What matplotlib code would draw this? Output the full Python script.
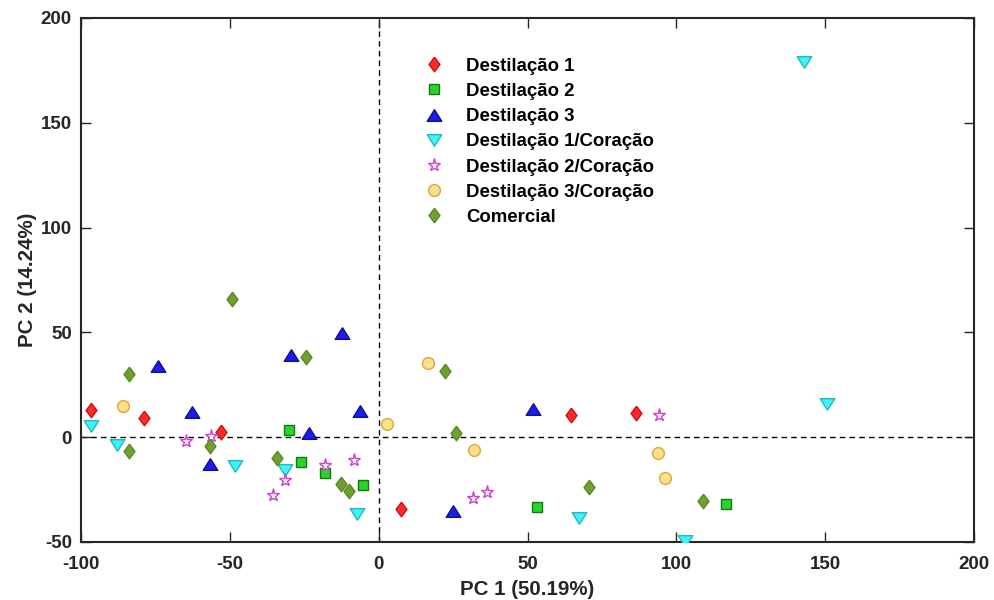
import numpy as np
import matplotlib
matplotlib.use("Agg")
import matplotlib.pyplot as plt

plt.rcParams["font.family"] = ["Liberation Sans", "DejaVu Sans"]
plt.rcParams["font.weight"] = "bold"
plt.rcParams["axes.unicode_minus"] = False

# scores (PC1, PC2)
d1_x = [-96.5, -78.7, -53.1, 7.5, 64.5, 86.3]
d1_y = [13.1, 9.1, 2.4, -34.5, 10.3, 11.4]

d2_x = [-30.0, -26.1, -18.1, -5.3, 53.1, 116.5]
d2_y = [3.5, -11.9, -17.3, -22.9, -33.4, -31.9]

d3_x = [-74.2, -62.7, -56.8, -29.5, -12.5, -6.3, -23.5, 51.9, 24.8]
d3_y = [34.0, 12.0, -13.0, 39.0, 49.7, 12.6, 1.9, 13.6, -35.5]

d1c_x = [-96.5, -87.9, -48.3, -31.4, -7.2, 67.4, 103.0, 142.7, 150.6]
d1c_y = [5.1, -4.0, -13.6, -15.7, -36.5, -38.5, -49.6, 179.0, 15.8]

d2c_x = [-64.9, -56.5, -31.5, -35.4, -18.2, -8.4, 31.8, 36.4, 94.2]
d2c_y = [-2.1, 0.3, -20.5, -27.7, -13.2, -10.9, -28.9, -26.2, 10.4]

d3c_x = [-86.0, 2.8, 16.5, 32.1, 93.7, 96.1]
d3c_y = [14.6, 6.3, 35.5, -6.2, -7.5, -19.5]

com_x = [-83.8, -84.0, -56.8, -49.4, -24.3, -34.1, -12.6, -10.0, 22.1, 25.9, 70.6, 108.8]
com_y = [30.3, -6.9, -4.5, 66.0, 38.3, -9.8, -22.3, -25.7, 31.5, 1.8, -24.0, -30.6]

diamond = [(0, 1), (0.75, 0), (0, -1), (-0.75, 0), (0, 1)]
tri_up = [(0, 0.8), (1, -0.8), (-1, -0.8), (0, 0.8)]
tri_down = [(0, -0.8), (1, 0.8), (-1, 0.8), (0, -0.8)]

groups = [
    ("Destilação 1", d1_x, d1_y, diamond, 10.5, "#ff2a2a", "#d01010"),
    ("Destilação 2", d2_x, d2_y, "s", 6.5, "#2ad42a", "#107a10"),
    ("Destilação 3", d3_x, d3_y, tri_up, 10.5, "#1c1cf0", "#10108a"),
    ("Destilação 1/Coração", d1c_x, d1c_y, tri_down, 10.5, "#3ff4f4", "#22b8c4"),
    ("Destilação 2/Coração", d2c_x, d2c_y, "*", 9.5, "white", "#d040d0"),
    ("Destilação 3/Coração", d3c_x, d3c_y, "o", 8.5, "#fbe08c", "#d6a93a"),
    ("Comercial", com_x, com_y, diamond, 10.5, "#70a030", "#5a8a22"),
]

fig = plt.figure(figsize=(9.94, 6.0), dpi=100)
ax = fig.add_axes([0.0815, 0.097, 0.8985, 0.873])

ax.axhline(0, color="black", ls="--", lw=1.0, dashes=(4, 3), zorder=1)
ax.axvline(0, color="black", ls="--", lw=1.0, dashes=(4, 3), zorder=1)

for name, xs, ys, mk, ms, fc, ec in groups:
    ax.plot(xs, ys, ls="none", marker=mk, ms=ms, mfc=fc, mec=ec, mew=1.0,
            label=name, zorder=3)

ax.set_xlim(-100, 200)
ax.set_ylim(-50, 200)
ax.set_xticks(np.arange(-100, 201, 50))
ax.set_yticks(np.arange(-50, 201, 50))
ax.tick_params(direction="in", length=7, width=1.0, top=True, right=True,
               labelsize=13.5, colors="#262626")
ax.tick_params(axis="x", pad=10.5)
ax.tick_params(axis="y", pad=6.5)
for lab in ax.get_xticklabels() + ax.get_yticklabels():
    lab.set_fontweight("bold")
    lab.set_color("#262626")
for sp in ax.spines.values():
    sp.set_color("#262626")
    sp.set_linewidth(1.5)

ax.set_xlabel("PC 1 (50.19%)", fontsize=14.8, fontweight="bold",
              color="#262626", labelpad=4.5)
ax.set_ylabel("PC 2 (14.24%)", fontsize=14.8, fontweight="bold",
              color="#262626", labelpad=3)

leg = ax.legend(loc="upper left", bbox_to_anchor=(0.377, 0.9385), frameon=False,
                prop={"size": 13.4, "weight": "bold"}, labelspacing=0.44,
                handlelength=1.0, handletextpad=1.22, borderaxespad=0)

fig.savefig("out.png", dpi=100)
plt.close(fig)
